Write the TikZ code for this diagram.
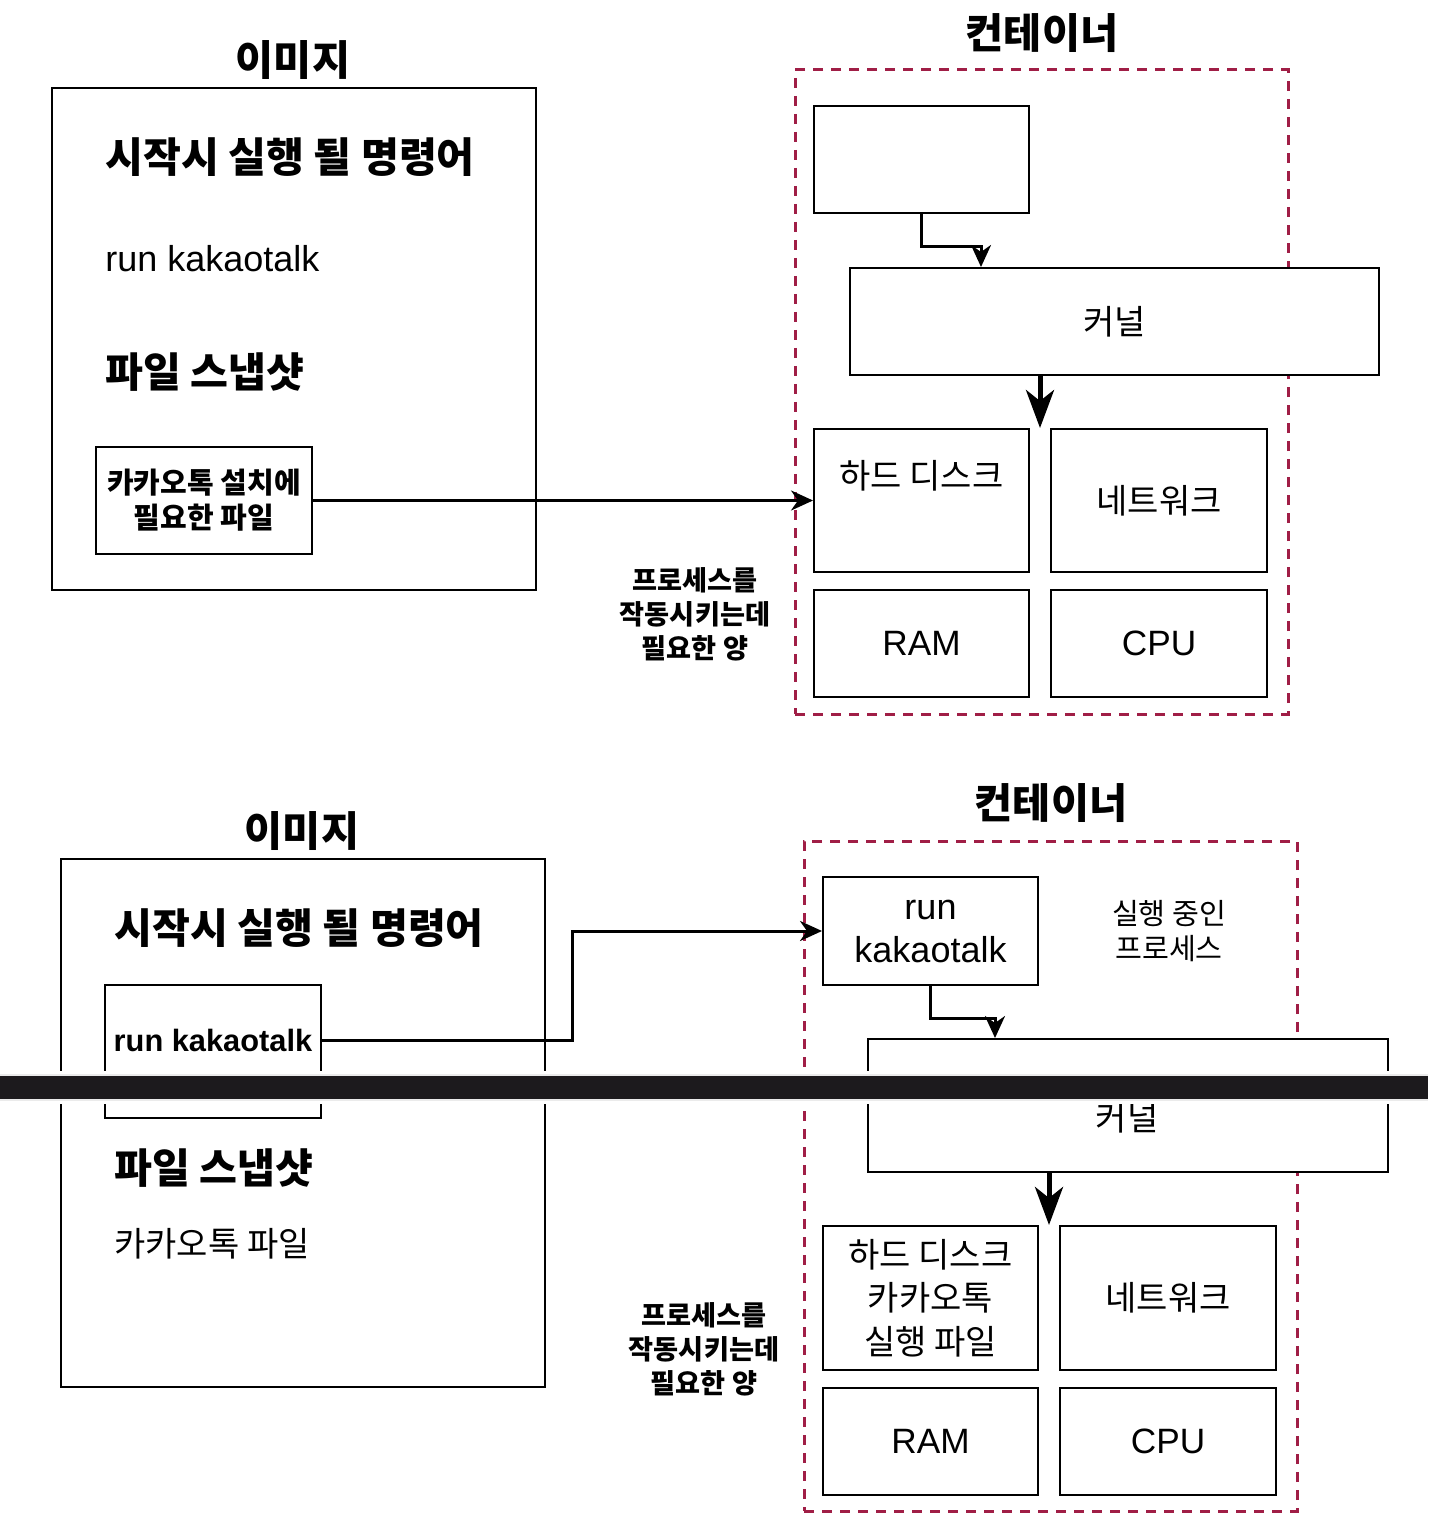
\documentclass[tikz,border=0pt]{standalone}
\usepackage{fontspec}
\setmainfont{Liberation Sans}
\newfontfamily\kr{Noto Sans CJK KR}
\usetikzlibrary{arrows.meta,fit,calc}
\definecolor{dashred}{HTML}{A01E46}
\definecolor{barblack}{HTML}{1C1A1D}
\begin{document}
\begin{tikzpicture}[x=0.5pt,y=-0.5pt,
  box/.style={draw, line width=1pt, fill=white, inner sep=0pt},
  cont/.style={draw=dashred, line width=1.5pt, dash pattern=on 5pt off 4pt, inner sep=0pt},
  conn/.style={line width=1.5pt, -{Stealth[length=11pt,width=10pt,inset=3.5pt]}},
  bigconn/.style={line width=2.5pt, -{Stealth[length=19pt,width=14pt,inset=5.5pt]}},
  title/.style={font=\kr\bfseries\fontsize{20.7}{24}\selectfont, inner sep=0pt},
  head/.style={font=\kr\bfseries\fontsize{20.6}{24}\selectfont, anchor=west, inner sep=0pt},
  kreg/.style={font=\kr\fontsize{17}{21.75}\selectfont, align=center, inner sep=0pt},
  ksmallbold/.style={font=\kr\bfseries\fontsize{14.5}{17.5}\selectfont, align=center, inner sep=0pt},
  klabel/.style={font=\kr\bfseries\fontsize{13.6}{17}\selectfont, align=center, inner sep=0pt},
  kproc/.style={font=\kr\fontsize{14.6}{17.5}\selectfont, align=center, inner sep=0pt},
  latin/.style={font=\fontsize{18}{21.5}\selectfont, align=center, inner sep=0pt},
  latinhw/.style={font=\fontsize{17.6}{21}\selectfont, inner sep=0pt},
  latinbold/.style={font=\bfseries\fontsize{15.4}{18}\selectfont, inner sep=0pt}
]
\useasboundingbox (0,0) rectangle (1428,1540);
\fill[white] (0,0) rectangle (1428,1540);

% ================= TOP =================
\node[title] (imgTitleA) at (293,60) {이미지};
\node[box, fit={(52,88) (536,590)}] (imgA) {};
\node[head] (cmdA) at (105,157) {시작시 실행 될 명령어};
\node[latin, anchor=west] (runA) at (105,259) {run kakaotalk};
\node[head] (snapA) at (105,372) {파일 스냅샷};
\node[box, fit={(96,447) (312,554)}] (fileA) {};
\node[ksmallbold] (fileAt) at (fileA.center) {카카오톡 설치에\\필요한 파일};

\node[title] (contTitleA) at (1042,33) {컨테이너};
\node[cont, fit={(795,70) (1288,714)}] (contA) {};
\node[box, fit={(814,106) (1029,213)}] (emptyA) {};
\node[box, fit={(850,268) (1379,375)}] (kernA) {};
\node[kreg] (kernAt) at (kernA.center) {커널};
\node[box, fit={(814,429) (1029,572)}] (hddA) {};
\node[kreg] (hddAt) at (921.5,476) {하드 디스크};
\node[box, fit={(1051,429) (1267,572)}] (netA) {};
\node[kreg] (netAt) at (netA.center) {네트워크};
\node[box, fit={(814,590) (1029,697)}] (ramA) {};
\node[latinhw] (ramAt) at (ramA.center) {RAM};
\node[box, fit={(1051,590) (1267,697)}] (cpuA) {};
\node[latinhw] (cpuAt) at (cpuA.center) {CPU};
\node[klabel] (needA) at (695,614) {프로세스를\\작동시키는데\\필요한 양};

\draw[conn] (fileA.east) -- (hddA.west);
\coordinate (kAin) at ([xshift=66pt]kernA.north west);
\draw[conn] (emptyA.south) |- ($(kAin)+(0,-20)$) -- (kAin);
\coordinate (gapA) at ($(hddA.north east)!0.5!(netA.north west)$);
\draw[bigconn] (kernA.south -| gapA) -- (gapA);

% ================= BOTTOM =================
\node[title] (imgTitleB) at (302,831) {이미지};
\node[box, fit={(61,859) (545,1387)}] (imgB) {};
\node[head] (cmdB) at (114,928) {시작시 실행 될 명령어};
\node[box, fit={(105,985) (321,1118)}] (runboxB) {};
\node[latinbold] (runtextB) at (213,1040) {run kakaotalk};
\node[head] (snapB) at (114,1168) {파일 스냅샷};
\node[kreg, anchor=west] (kfileB) at (114,1244) {카카오톡 파일};

\node[title] (contTitleB) at (1051,803) {컨테이너};
\node[cont, fit={(804,841) (1297,1511)}] (contB) {};
\node[box, fit={(823,877) (1038,985)}] (runB) {};
\node[latin] (runBt) at (runB.center) {run\\kakaotalk};
\node[kproc] (procB) at (1169,931) {실행 중인\\프로세스};
\node[box, fit={(868,1039) (1388,1172)}] (kernB) {};
\node[kreg] (kernBt) at (1127,1118) {커널};
\node[box, fit={(823,1226) (1038,1370)}] (hddB) {};
\node[kreg] (hddBt) at (hddB.center) {하드 디스크\\카카오톡\\실행 파일};
\node[box, fit={(1060,1226) (1276,1370)}] (netB) {};
\node[kreg] (netBt) at (netB.center) {네트워크};
\node[box, fit={(823,1388) (1038,1495)}] (ramB) {};
\node[latinhw] (ramBt) at (ramB.center) {RAM};
\node[box, fit={(1060,1388) (1276,1495)}] (cpuB) {};
\node[latinhw] (cpuBt) at (cpuB.center) {CPU};
\node[klabel] (needB) at (704,1349) {프로세스를\\작동시키는데\\필요한 양};

\coordinate (rbE) at (runboxB.east |- runtextB.center);
\draw[conn] (rbE) -- ++(250,0) |- (runB.west);
\coordinate (kBin) at ([xshift=64pt]kernB.north west);
\draw[conn] (runB.south) |- ($(kBin)+(0,-20)$) -- (kBin);
\coordinate (gapB) at ($(hddB.north east)!0.5!(netB.north west)$);
\draw[bigconn] (kernB.south -| gapB) -- (gapB);

% ================= BAR =================
\fill[white] (0,1071) rectangle (1428,1104);
\fill[black!8] (0,1074) rectangle (1428,1101);
\fill[barblack] (0,1076) rectangle (1428,1099);
\end{tikzpicture}
\end{document}
